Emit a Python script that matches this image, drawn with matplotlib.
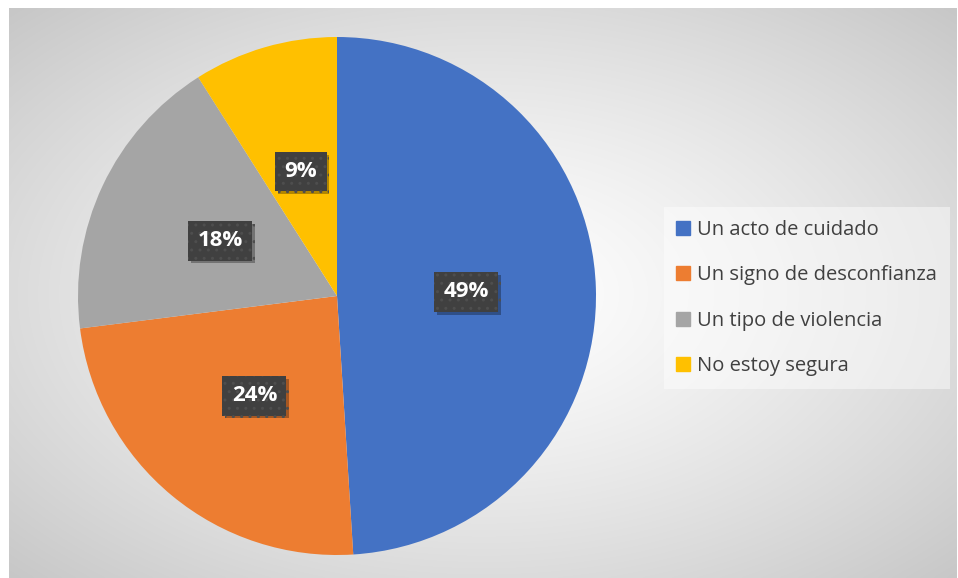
import numpy as np
import matplotlib
matplotlib.use("Agg")
import matplotlib.pyplot as plt
from matplotlib.lines import Line2D
import matplotlib.patheffects as pe

categories = ["Un acto de cuidado", "Un signo de desconfianza", "Un tipo de violencia", "No estoy segura"]
values = [49, 24, 18, 9]
colors = ["#4472C4", "#ED7D31", "#A5A5A5", "#FFC000"]

W, H = 958, 578
fig = plt.figure(figsize=(W / 100, H / 100), dpi=100)
fig.patch.set_facecolor("white")

# background radial gradient
bg = fig.add_axes([9 / W, 0, 948 / W, 570 / H])
ny, nx = 285, 474
yy, xx = np.mgrid[0:ny, 0:nx]
cx, cy = nx * 0.5, ny * 0.5
d = np.sqrt(((xx - cx) / cx) ** 2 + ((yy - cy) / cy) ** 2) / np.sqrt(2)
v = 1.0 - (1.0 - 0.78) * np.clip(d, 0, 1) ** 1.3
img = np.dstack([v, v, v])
bg.imshow(img, aspect="auto", extent=[0, 1, 0, 1], interpolation="bilinear")
bg.set_axis_off()

# pie
ax = fig.add_axes([78 / W, 23 / H, 518 / W, 518 / H])
wedges, texts = ax.pie(values, colors=colors, startangle=90, counterclock=False,
                       radius=1.0, labels=[f"{v}%" for v in values], labeldistance=0.5,
                       wedgeprops=dict(linewidth=0))
for t in texts:
    t.set_ha("center")
    t.set_va("center")
    t.set_color("white")
    t.set_fontweight("bold")
    t.set_fontsize(16)
    t.set_family("Open Sans")
    t.set_bbox(dict(boxstyle="square,pad=0.42", facecolor="#404040", edgecolor="#4e4e4e",
                    linewidth=0, hatch="..",
                    path_effects=[pe.withSimplePatchShadow(offset=(2, -2), shadow_rgbFace="#000000", alpha=0.3)]))
ax.set_xlim(-1, 1)
ax.set_ylim(-1, 1)
ax.set_aspect("equal")
ax.set_axis_off()

handles = [Line2D([0], [0], marker="s", linestyle="none", markersize=9.5,
                  markerfacecolor=c, markeredgecolor=c) for c in colors]
leg = fig.legend(handles, categories, loc="center left",
                 bbox_to_anchor=(664 / W, 1 - 298 / H), frameon=True,
                 prop={"family": "Open Sans", "size": 14.5}, labelspacing=1.26,
                 handletextpad=0.4, borderpad=0.65, borderaxespad=0, handlelength=0.6)
fr = leg.get_frame()
fr.set_facecolor("white")
fr.set_alpha(0.45)
fr.set_edgecolor("none")
fr.set_boxstyle("square", pad=0)
for t in leg.get_texts():
    t.set_color("#404040")

fig.savefig("out.png", dpi=100)
